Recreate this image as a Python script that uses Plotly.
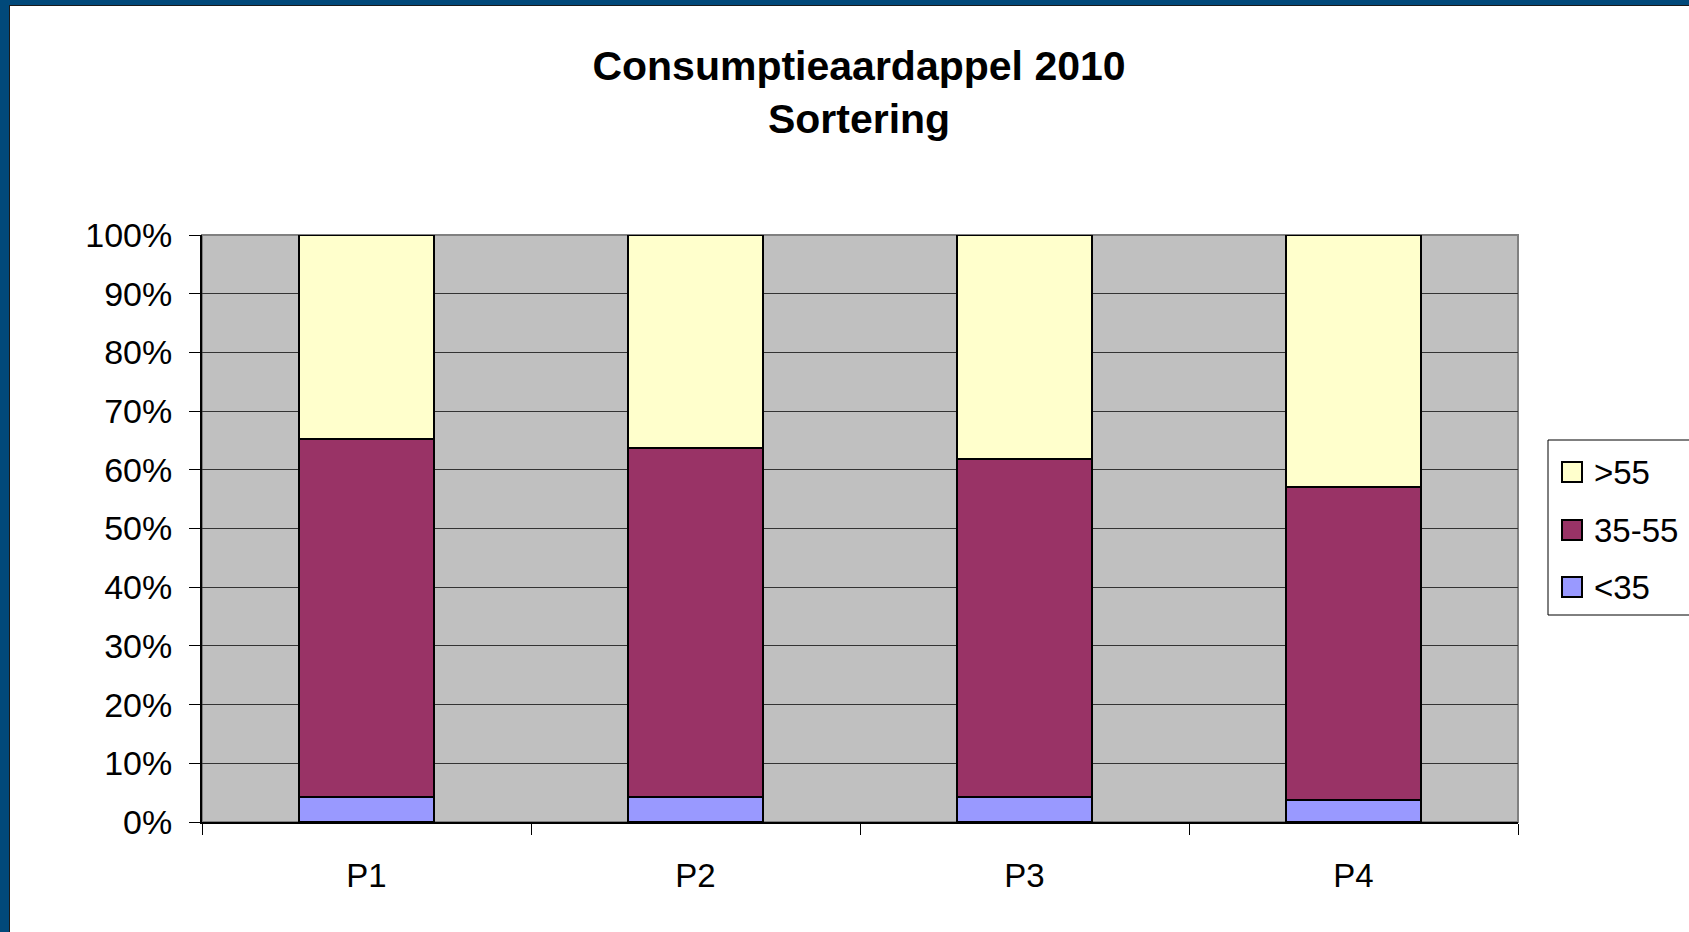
import plotly.graph_objects as go

# ---- data ----
categories = ["P1", "P2", "P3", "P4"]
series_names = ["<35", "35-55", ">55"]
lt35 = [4.2, 4.2, 4.2, 3.7]
mid35_55 = [61.0, 59.5, 57.7, 53.4]
gt55 = [34.8, 36.3, 38.1, 42.9]
series_values = [lt35, mid35_55, gt55]
series_colors = ["#9999FF", "#993366", "#FFFFCC"]
y_ticks = [0, 10, 20, 30, 40, 50, 60, 70, 80, 90, 100]
y_tick_labels = [f"{v}%" for v in y_ticks]

W, H = 1689, 932
L, R, T, B = 202, 1518, 235, 822  # plot area in pixels
FONT = "Liberation Sans, Arial, sans-serif"


def px(x):
    return (x - L) / (R - L)


def py(y):
    return (B - y) / (B - T)


fig = go.Figure()
for name, vals, col in zip(series_names, series_values, series_colors):
    fig.add_trace(go.Bar(
        x=categories, y=vals, name=name, showlegend=False,
        marker=dict(color=col, line=dict(color="black", width=2)),
    ))

shapes = [
    # plot frame (grey top/right)
    dict(type="rect", xref="paper", yref="paper", x0=0, x1=1, y0=0, y1=1,
         line=dict(color="#808080", width=2), layer="below"),
    # blue page border left and top
    dict(type="rect", xref="paper", yref="paper", x0=px(-5), x1=px(9), y0=py(-5), y1=py(H + 5),
         line=dict(width=0), fillcolor="#01497A", layer="above"),
    dict(type="rect", xref="paper", yref="paper", x0=px(-5), x1=px(W + 5), y0=py(-5), y1=py(5),
         line=dict(width=0), fillcolor="#01497A", layer="above"),
    dict(type="line", xref="paper", yref="paper", x0=px(9.5), x1=px(9.5), y0=py(5), y1=py(H + 5),
         line=dict(color="#1a1a1a", width=1), layer="above"),
    dict(type="line", xref="paper", yref="paper", x0=px(9), x1=px(W + 5), y0=py(5.5), y1=py(5.5),
         line=dict(color="#1a1a1a", width=1), layer="above"),
    # legend box
    dict(type="rect", xref="paper", yref="paper", x0=px(1548), x1=px(1720), y0=py(440), y1=py(615),
         line=dict(color="black", width=1), fillcolor="white", layer="above"),
]
annotations = []
legend_rows = [(">55", "#FFFFCC", 472), ("35-55", "#993366", 530), ("<35", "#9999FF", 587)]
for name, col, yc in legend_rows:
    shapes.append(dict(type="rect", xref="paper", yref="paper",
                       x0=px(1562), x1=px(1582), y0=py(yc - 10), y1=py(yc + 10),
                       line=dict(color="black", width=2), fillcolor=col, layer="above"))
    annotations.append(dict(xref="paper", yref="paper", x=px(1592), y=py(yc), text=name,
                            showarrow=False, xanchor="left", yanchor="middle",
                            font=dict(size=33, color="black", family=FONT)))

fig.update_layout(
    width=W, height=H,
    margin=dict(l=L, r=W - R, t=T, b=H - B, pad=0),
    paper_bgcolor="white", plot_bgcolor="#C0C0C0",
    barmode="stack", bargap=0.59,
    showlegend=False,
    title=dict(text="<b>Consumptieaardappel 2010<br>Sortering</b>",
               xref="paper", x=px(859), xanchor="center",
               yref="container", y=1 - 80 / H, yanchor="middle",
               font=dict(size=41, color="black", family=FONT)),
    font=dict(family=FONT, color="black"),
    shapes=shapes, annotations=annotations,
)
fig.update_xaxes(
    type="category", tickson="boundaries", ticks="outside", ticklen=11, tickcolor="black",
    tickwidth=1, showline=True, linecolor="black", linewidth=2, showgrid=False,
    tickfont=dict(size=33, family=FONT, color="black"), ticklabelstandoff=23,
)
fig.update_yaxes(
    range=[0, 100], tickvals=y_ticks, ticktext=y_tick_labels, ticks="outside", ticklen=11,
    tickcolor="black", tickwidth=1, showline=True, linecolor="black", linewidth=2,
    showgrid=True, gridcolor="#333333", gridwidth=1, zeroline=False,
    tickfont=dict(size=34, family=FONT, color="black"), ticklabelstandoff=10,
)

fig.write_html("out.html", config={"displayModeBar": False},
               post_script="document.body.style.margin='0';")
